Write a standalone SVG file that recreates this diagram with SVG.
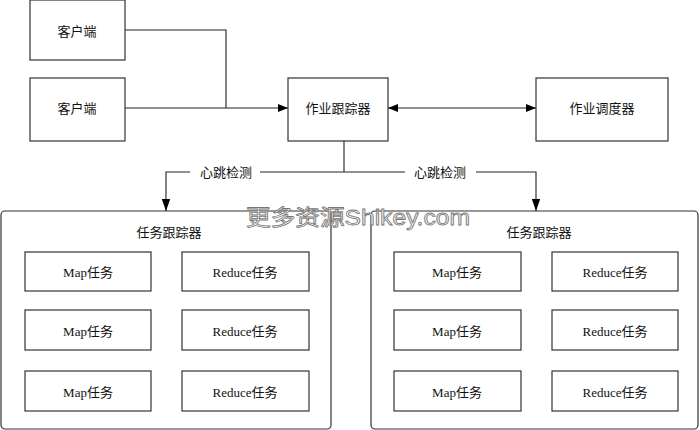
<svg xmlns="http://www.w3.org/2000/svg" width="700" height="430" viewBox="0 0 700 430">
<defs>
<marker id="arr" viewBox="0 0 10 10" refX="10" refY="5" markerWidth="10" markerHeight="10" markerUnits="userSpaceOnUse" orient="auto-start-reverse">
<path d="M0,1 L10,5 L0,9 Z" fill="#000"/>
</marker>
<marker id="arrd" viewBox="0 0 10 10" refX="10" refY="5" markerWidth="12" markerHeight="12" markerUnits="userSpaceOnUse" orient="auto">
<path d="M0,1.5 L10,5 L0,8.5 Z" fill="#000"/>
</marker>
<style>
.box{fill:#fff;stroke:#333;stroke-width:1.2}
.ct{fill:#fff;stroke:#333;stroke-width:1.2}
.t{font-family:"Liberation Serif","Noto Sans CJK SC",serif;font-size:13px;fill:#111;text-anchor:middle;dominant-baseline:central}
.ln{fill:none;stroke:#222;stroke-width:1.1}
.wm{font-family:"Liberation Sans","Noto Sans CJK SC",sans-serif;font-size:22px;fill:#f2f2f2;stroke:#777;stroke-width:0.8;dominant-baseline:central}
</style>
</defs>
<rect width="700" height="430" fill="#fff"/>
<g id="tt-left">
<rect class="ct" x="1" y="211" width="330" height="218" rx="4"/>
<text class="t" x="169" y="232">任务跟踪器</text>
</g>
<g id="tt-right">
<rect class="ct" x="371" y="211" width="327" height="218" rx="4"/>
<text class="t" x="539" y="232">任务跟踪器</text>
</g>
<g id="connectors">
<polyline class="ln" points="125,30 226,30 226,108"/>
<line class="ln" x1="125" y1="108" x2="288" y2="108" marker-end="url(#arr)"/>
<line class="ln" x1="388" y1="108" x2="536" y2="108" marker-start="url(#arr)" marker-end="url(#arr)"/>
<line class="ln" x1="344" y1="141" x2="344" y2="172"/>
<polyline class="ln" points="190,172 166,172 166,211" marker-end="url(#arrd)"/>
<line class="ln" x1="260" y1="172" x2="405" y2="172"/>
<polyline class="ln" points="476,172 536,172 536,211" marker-end="url(#arrd)"/>
<text class="t" x="226" y="172">心跳检测</text>
<text class="t" x="440" y="172">心跳检测</text>
</g>
<g id="client1"><rect class="box" x="30" y="0" width="95" height="60"/><text class="t" x="77" y="31">客户端</text></g>
<g id="client2"><rect class="box" x="30" y="78" width="95" height="63"/><text class="t" x="77" y="108">客户端</text></g>
<g id="jobtracker"><rect class="box" x="288" y="78" width="100" height="63"/><text class="t" x="338" y="108">作业跟踪器</text></g>
<g id="scheduler"><rect class="box" x="536" y="78" width="132" height="63"/><text class="t" x="602" y="108">作业调度器</text></g>
<g id="l-map1"><rect class="box" x="25" y="252" width="126" height="39"/><text class="t" x="88" y="272">Map任务</text></g>
<g id="l-map2"><rect class="box" x="25" y="310" width="126" height="40"/><text class="t" x="88" y="331">Map任务</text></g>
<g id="l-map3"><rect class="box" x="25" y="371" width="126" height="40"/><text class="t" x="88" y="392">Map任务</text></g>
<g id="l-red1"><rect class="box" x="182" y="252" width="127" height="39"/><text class="t" x="245" y="272">Reduce任务</text></g>
<g id="l-red2"><rect class="box" x="182" y="310" width="127" height="40"/><text class="t" x="245" y="331">Reduce任务</text></g>
<g id="l-red3"><rect class="box" x="182" y="371" width="127" height="40"/><text class="t" x="245" y="392">Reduce任务</text></g>
<g id="r-map1"><rect class="box" x="394" y="252" width="127" height="39"/><text class="t" x="457" y="272">Map任务</text></g>
<g id="r-map2"><rect class="box" x="394" y="310" width="127" height="40"/><text class="t" x="457" y="331">Map任务</text></g>
<g id="r-map3"><rect class="box" x="394" y="371" width="127" height="40"/><text class="t" x="457" y="392">Map任务</text></g>
<g id="r-red1"><rect class="box" x="552" y="252" width="126" height="39"/><text class="t" x="615" y="272">Reduce任务</text></g>
<g id="r-red2"><rect class="box" x="552" y="310" width="126" height="40"/><text class="t" x="615" y="331">Reduce任务</text></g>
<g id="r-red3"><rect class="box" x="552" y="371" width="126" height="40"/><text class="t" x="615" y="392">Reduce任务</text></g>
<text class="wm" x="246" y="217" textLength="224" lengthAdjust="spacingAndGlyphs">更多资源Shikey.com</text>
</svg>
